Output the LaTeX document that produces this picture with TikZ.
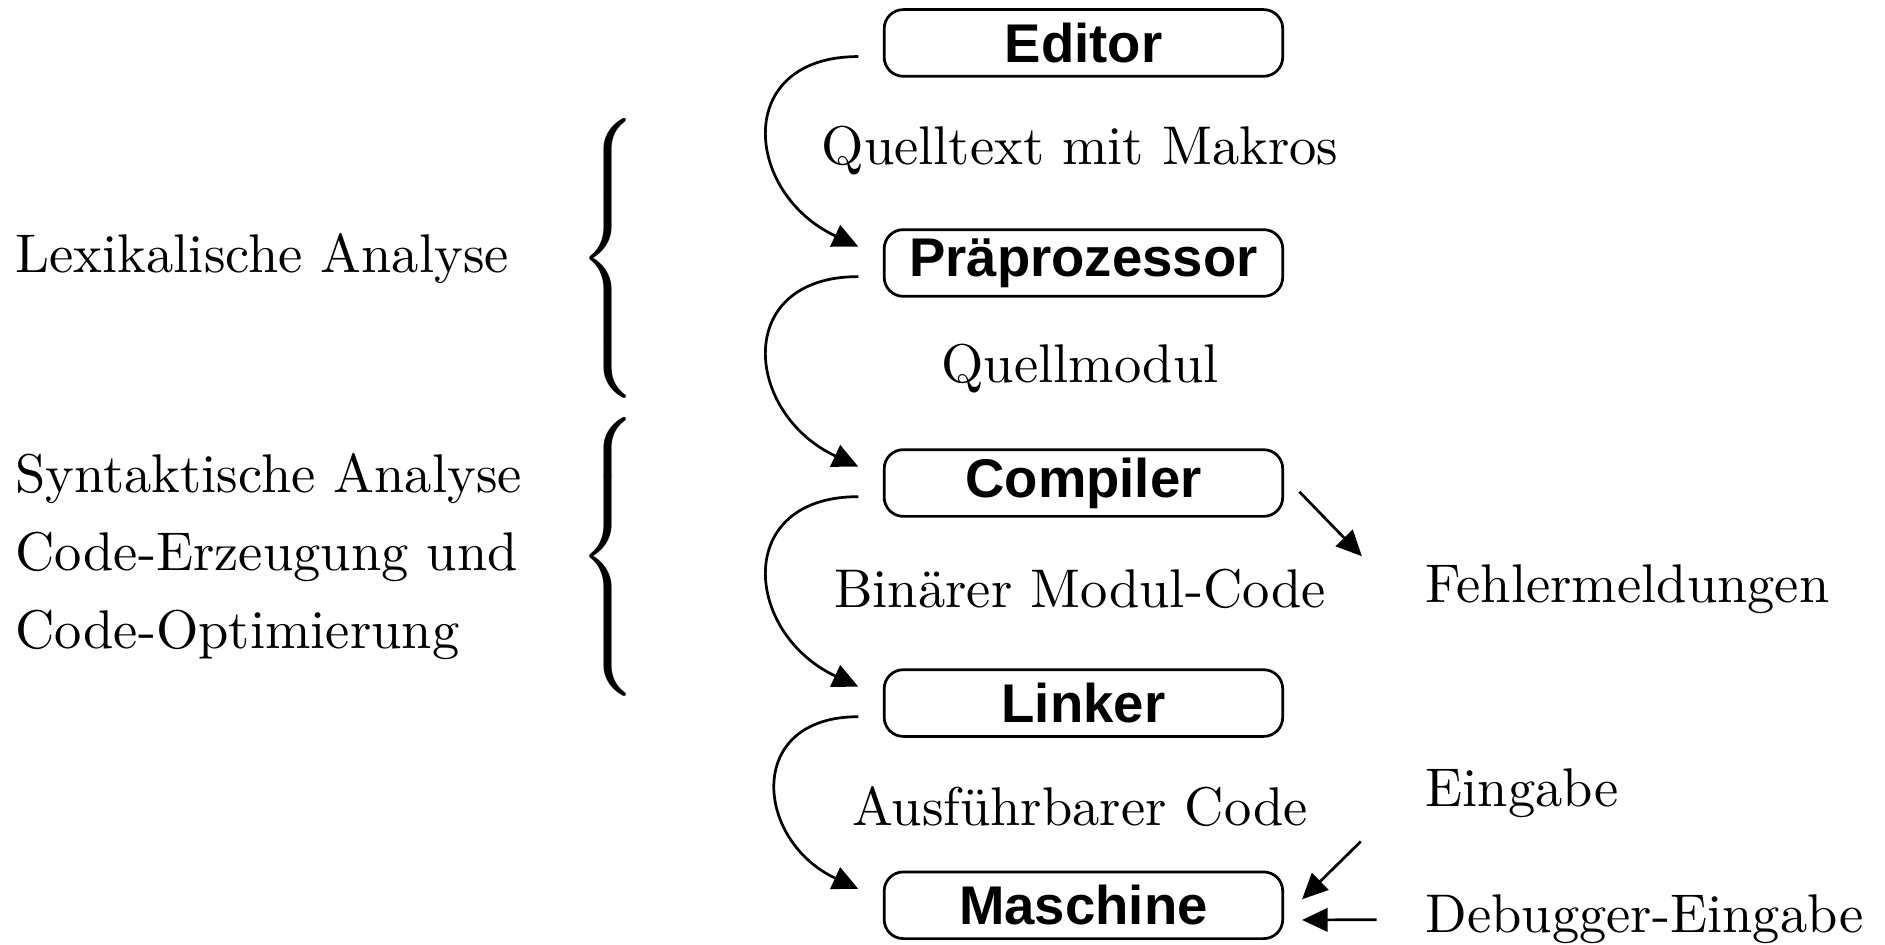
\documentclass[tikz,border=0pt]{standalone}
\usepackage{fontspec}
\newfontfamily\stagefont{Liberation Sans}
\usetikzlibrary{arrows.meta, calc}
\tikzset{
  % rounded box for one stage of the tool chain
  stage/.style={
    draw, rounded corners=3.5pt, line width=0.5pt,
    minimum width=25.7mm, minimum height=4.3mm, inner sep=0pt,
    font=\stagefont\bfseries
  },
  % plain text, no padding
  lbl/.style={inner sep=0pt},
  % arrows
  flow/.style={-{Triangle[length=4.7pt,width=4.3pt]}, line width=0.5pt},
  pass/.style={flow, out=180, in=155, looseness=1.7},
}
\newcommand{\bigbrace}{\scalebox{1.22}{$\left\{\vrule height 24pt depth 19pt width 0pt\right.$}}

\begin{document}
\begin{tikzpicture}
\useasboundingbox (0,0) rectangle (12.156,-6.088);

% ===========================================================================
% STAGES
% ===========================================================================
\node[stage] (editor)   at (6.987,-0.277) {Editor};
\node[stage] (prepro)   at (6.987,-1.696) {Präprozessor};
\node[stage] (compiler) at (6.987,-3.115) {Compiler};
\node[stage] (linker)   at (6.987,-4.534) {Linker};
\node[stage] (maschine) at (6.987,-5.838) {Maschine};

% what is passed on between the stages
\node[lbl] (quelltext)  at (6.965,-0.969) {Quelltext mit Makros};
\node[lbl] (quellmodul) at (6.965,-2.380) {Quellmodul};
\node[lbl] (binaer)     at (6.965,-3.798) {Binärer Modul-Code};
\node[lbl] (ausfuehr)   at (6.965,-5.202) {Ausführbarer Code};

\draw[pass] ([shift={(-4.5pt,-2.5pt)}]editor.west)   to ([shift={(-4.5pt,3pt)}]prepro.west);
\draw[pass] ([shift={(-4.5pt,-2.5pt)}]prepro.west)   to ([shift={(-4.5pt,3pt)}]compiler.west);
\draw[pass] ([shift={(-4.5pt,-2.5pt)}]compiler.west) to ([shift={(-4.5pt,3pt)}]linker.west);
\draw[pass] ([shift={(-4.5pt,-2.5pt)}]linker.west)   to ([shift={(-4.5pt,3pt)}]maschine.west);

% ===========================================================================
% RIGHT: messages and input
% ===========================================================================
\node[lbl, anchor=west] (fehler)  at (9.187,-3.798) {Fehlermeldungen};
\node[lbl, anchor=west] (eingabe) at (9.187,-5.117) {Eingabe};
\node[lbl, anchor=west] (debug)   at (9.187,-5.931) {Debugger-Eingabe};

\draw[flow] ([shift={(2.8pt,-1.6pt)}]compiler.east) -- ([shift={(-11.5pt,6pt)}]fehler.west);
\draw[flow] ([shift={(-11.7pt,-8.8pt)}]eingabe.west) -- ([shift={(3.3pt,1.1pt)}]maschine.east);
\draw[flow] ([xshift=-8.8pt]debug.west) -- ([shift={(3.3pt,-2.7pt)}]maschine.east);

% ===========================================================================
% LEFT: compiler phases
% ===========================================================================
\node[lbl, anchor=west] (lexik) at (0.093,-1.667) {Lexikalische Analyse};
\node[lbl, anchor=west, align=left] (syntax) at (0.093,-3.590)
      {Syntaktische Analyse\\[2.3pt]
       Code-Erzeugung und\\[2.3pt]
       Code-Optimierung};

\node[lbl, anchor=east] (lexbrace) at (4.17,-1.667) {\bigbrace};
\node[lbl, anchor=east] (synbrace) at (4.17,-3.590) {\bigbrace};

\end{tikzpicture}
\end{document}
